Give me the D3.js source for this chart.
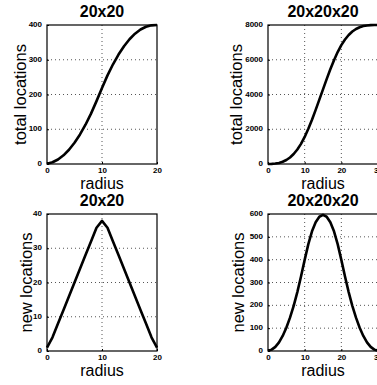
<!DOCTYPE html>
<html>
<head>
<meta charset="utf-8">
<script src="https://cdn.jsdelivr.net/npm/d3@7"></script>
<style>
  body { margin: 0; background: #fff; }
  svg { display: block; font-family: "Liberation Sans", Arial, Helvetica, sans-serif; }
</style>
</head>
<body>
<figure id="grids" style="margin:0"></figure>
<script>
// radius values for each grid
const radius2d = d3.range(0, 21);
const radius3d = d3.range(0, 31);

// locations counted per radius
const total2d = [1, 5, 13, 25, 41, 61, 85, 113, 145, 181, 219, 255, 287, 315, 339, 359, 375, 387, 395, 399, 400];
const new2d = [1, 4, 8, 12, 16, 20, 24, 28, 32, 36, 38, 36, 32, 28, 24, 20, 16, 12, 8, 4, 1];
const total3d = [1, 7, 25, 63, 129, 231, 377, 575, 833, 1159, 1558, 2026, 2550, 3114, 3702, 4298,
  4886, 5450, 5974, 6442, 6841, 7167, 7425, 7623, 7769, 7871, 7937, 7975, 7993, 7999, 8000];
const new3d = [1, 6, 18, 38, 66, 102, 146, 198, 258, 326, 399, 468, 524, 564, 588, 596,
  588, 564, 524, 468, 399, 326, 258, 198, 146, 102, 66, 38, 18, 6, 1];

// tick labels
const xTicks2d = [0, 10, 20];
const xTicks3d = [0, 10, 20, 30];
const yTicksTotal2d = [0, 100, 200, 300, 400];
const yTicksNew2d = [0, 10, 20, 30, 40];
const yTicksTotal3d = [0, 2000, 4000, 6000, 8000];
const yTicksNew3d = [0, 100, 200, 300, 400, 500, 600];

const titles = ["20x20", "20x20x20"];
const yLabels = ["total locations", "new locations"];
const xLabel = "radius";

const svg = d3.select("figure#grids")
  .append("svg")
  .attr("width", 377)
  .attr("height", 385);

function drawPanel(p) {
  const x = d3.scaleLinear().domain([0, p.xMax]).range([p.left, p.left + 110]);
  const y = d3.scaleLinear().domain([0, p.yMax]).range([p.bottom, p.top]);
  const g = svg.append("g");

  // dotted grid
  g.selectAll(".gx")
    .data(p.xTicks.slice(1, -1))
    .enter().append("line")
    .attr("x1", d => x(d)).attr("x2", d => x(d))
    .attr("y1", p.top).attr("y2", p.bottom)
    .attr("stroke", "#555").attr("stroke-dasharray", "1,3");
  g.selectAll(".gy")
    .data(p.yTicks.slice(1, -1))
    .enter().append("line")
    .attr("x1", x.range()[0]).attr("x2", x.range()[1])
    .attr("y1", d => y(d)).attr("y2", d => y(d))
    .attr("stroke", "#555").attr("stroke-dasharray", "1,3");

  // axes, ticks inward
  const fmt = d3.format("d");
  const xAxis = g.append("g")
    .attr("transform", `translate(0,${p.bottom})`)
    .call(d3.axisBottom(x).tickValues(p.xTicks).tickFormat(fmt).tickSizeInner(-2).tickSizeOuter(0).tickPadding(5));
  const yAxis = g.append("g")
    .attr("transform", `translate(${p.left},0)`)
    .call(d3.axisLeft(y).tickValues(p.yTicks).tickFormat(fmt).tickSizeInner(-2).tickSizeOuter(0).tickPadding(5));
  [xAxis, yAxis].forEach(a => {
    a.select(".domain").remove();
    a.selectAll("line").attr("stroke", "#000");
    a.selectAll("text")
      .attr("fill", "#000")
      .style("font-size", "8px")
      .style("font-weight", "bold")
      .style("font-family", "Liberation Sans, Arial, sans-serif");
  });
  xAxis.selectAll("text").attr("dy", "0.5em");
  yAxis.selectAll("text").attr("dy", "0.2em");

  // box
  g.append("rect")
    .attr("x", p.left).attr("y", p.top)
    .attr("width", 110).attr("height", p.bottom - p.top)
    .attr("fill", "none").attr("stroke", "#000").attr("stroke-width", 1.2);

  // curve
  g.append("path")
    .datum(p.values)
    .attr("fill", "none")
    .attr("stroke", "#000")
    .attr("stroke-width", 2.6)
    .attr("stroke-linejoin", "round")
    .attr("d", d3.line().x((d, i) => x(p.radius[i])).y(d => y(d)));

  // texts
  g.append("text")
    .attr("x", p.left + 55).attr("y", p.top - 8)
    .attr("text-anchor", "middle")
    .style("font-size", "16px").style("font-weight", "bold")
    .text(p.title);
  g.append("text")
    .attr("x", p.left + 55).attr("y", p.bottom + 25)
    .attr("text-anchor", "middle")
    .style("font-size", "16px")
    .text(xLabel);
  g.append("text")
    .attr("transform", `translate(${p.labelX},${(p.top + p.bottom) / 2}) rotate(-90)`)
    .attr("text-anchor", "middle")
    .style("font-size", "16.5px")
    .text(p.yLabel);
}

drawPanel({ left: 47, top: 25, bottom: 164, xMax: 20, yMax: 400, xTicks: xTicks2d, yTicks: yTicksTotal2d,
  radius: radius2d, values: total2d, title: titles[0], yLabel: yLabels[0], labelX: 26 });
drawPanel({ left: 268, top: 25, bottom: 164, xMax: 30, yMax: 8000, xTicks: xTicks3d, yTicks: yTicksTotal3d,
  radius: radius3d, values: total3d, title: titles[1], yLabel: yLabels[0], labelX: 242 });
drawPanel({ left: 47, top: 214, bottom: 351, xMax: 20, yMax: 40, xTicks: xTicks2d, yTicks: yTicksNew2d,
  radius: radius2d, values: new2d, title: titles[0], yLabel: yLabels[1], labelX: 32 });
drawPanel({ left: 268, top: 214, bottom: 351, xMax: 30, yMax: 600, xTicks: xTicks3d, yTicks: yTicksNew3d,
  radius: radius3d, values: new3d, title: titles[1], yLabel: yLabels[1], labelX: 244 });
</script>
</body>
</html>
